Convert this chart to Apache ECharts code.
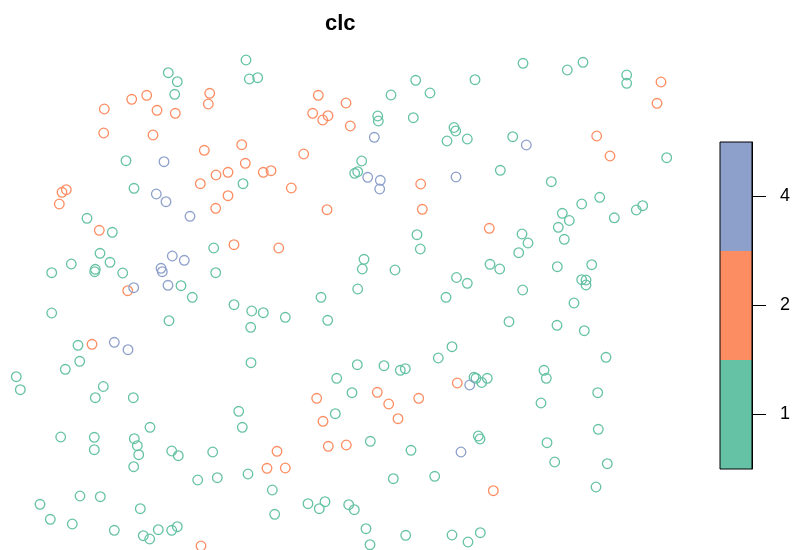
<!DOCTYPE html>
<html>
<head>
<meta charset="utf-8">
<script src="https://cdn.jsdelivr.net/npm/echarts@6/dist/echarts.min.js"></script>
<style>
  html, body { margin: 0; padding: 0; background: #fff; }
  #main { width: 795px; height: 550px; }
</style>
</head>
<body>
<div id="main"></div>
<script>
var chartDom = document.getElementById('main');
var myChart = echarts.init(chartDom, null, { renderer: 'canvas' });

// point locations (easting, northing), one list per clc class
var clc1 = [
  [168.3,72.7],[177.3,81.7],[174.7,94.3],[126,160.7],[134,188.3],[87,218.3],
  [246,60],[249.3,79],[257.7,77.7],[415.7,80.3],[430,93],[391,95],[377.7,116],[378.3,121],
  [413.3,117.7],[454,127.5],[455.7,131],[447,141],[467.3,139],[361.7,161],[357.7,171.7],
  [354.7,173.3],[243,183.7],
  [523,63.3],[567.3,70],[583,62.3],[475,79.7],[626.7,75],[626.7,83.3],[512.7,136.7],
  [500.3,170.3],[551.3,181.7],[666.7,157.7],[599.7,197.3],[581.7,204],[562.3,213.3],
  [569.3,220.5],[614.3,217.8],[642.7,205.7],[636.3,210],
  [112.3,232.3],[100,253.3],[110,262.3],[71.3,264],[51.7,272.7],[95.3,269.3],[94.7,271.7],
  [122.7,273],[213.7,248],[215.7,272.7],[181,285.7],[192.3,297.3],[51.7,313],[169,320.7],
  [78,345.3],[79.7,361.3],[65.3,369.3],[16.3,376.7],
  [417,234.7],[420.3,249],[364,259.3],[362.3,269],[395,270],[357.7,289],[321,297.3],
  [327.7,320.3],[234,304.7],[251.7,311],[263.3,312.7],[285.3,317.3],[250.7,327.3],
  [446,297.3],[456.5,277.5],[251,362.7],[336.7,378.3],[357.3,364.7],[384,365.7],
  [400.3,370.3],[405.3,368.7],[438.3,358],[452,346.7],
  [558.3,227.3],[564.3,239.3],[522,234],[528,243],[518.7,252.7],[490,264.3],[499.7,269],
  [467.3,283.3],[557.3,266.7],[591.7,264.7],[581.7,279.7],[586,280],[586,285],
  [522.7,290],[574,303],[509,321.7],[557,325.3],[584.3,330.7],[606,357.3],[544,370.3],
  [546.3,378.3],[474,377.3],[476,378.3],[487.3,378.3],[481.7,382.5],
  [597.7,392.7],[541,403],[598.3,429.3],[478.3,436],[480,439],[547,442.7],[554.7,462],
  [607.3,463.7],[596,487],[452,535],[480.3,532.7],[468,542],
  [20.3,389.7],[103.3,386.5],[95.3,397.7],[133.3,397.7],[60.7,437],[94.3,437.3],
  [94.3,449.7],[134.3,438.7],[150,427.3],[137.3,445.7],[138.7,454.7],[133.7,466.7],
  [171.7,451],[178.3,455.7],[212.7,452],[197.7,480],[217.3,477.7],[80,496],[100.3,496.7],
  [40,504.3],[50.3,519.3],[72.3,524],[140.3,508.7],[114.3,530.3],[143.3,535.7],
  [149.7,539],[158.3,529.7],[171.7,530.3],[177.3,526.7],
  [352,392.7],[238.7,411.3],[242.3,427.3],[335.3,413.7],[370.3,441.3],[411,450.3],
  [248,474],[272.3,490],[274.7,514.3],[308,503.7],[319.3,508.7],[325,501.7],[348.7,504.7],
  [354.3,509.7],[393.3,478.7],[434.7,476.3],[366,528.7],[370,544.7],[405.7,535.3]
];
var clc2 = [
  [131.7,99.3],[146.7,95.3],[104.3,109],[157,110.3],[175.3,113.3],[209.7,93.3],[208.3,104],
  [103.7,133],[153,135],[204.3,150.3],[216,175],[228,172.3],[200.3,183.7],[228,195.7],
  [215.7,208.3],[66.3,189.7],[62,192.3],[59.3,204],
  [318.3,95.3],[346,103],[312.7,113.3],[322.7,120],[328,115.7],[350.3,126],[241.7,144.7],
  [303.7,154],[245.3,163.3],[263.3,172.3],[271,170.7],[291.3,188],[327,209.7],
  [420.7,184],[422.3,209.3],
  [661,82],[657,103.3],[596.7,136],[610,156],
  [99.3,230.3],[127.7,290.7],[92,344.3],[234,244.7],[278.7,248],
  [489.3,228.3],[457.3,383],[493.3,490.7],[201,546],
  [316.7,398.3],[377.3,392.3],[388.7,404],[398,418.7],[418.7,398.3],[323,421.3],
  [277,451.3],[267,468.3],[285.3,468],[328.3,446.3],[346.3,445]
];
var clc4 = [
  [164,161.7],[156.3,194],[166,201.7],[190,216.3],
  [374.3,137.3],[367.7,177.3],[380.3,180.3],[379.7,189],[456,177],[526.3,145],
  [172.3,256],[184.3,260.3],[161,268.3],[162.3,271.7],[133.7,287.7],[168,285.3],
  [114.3,342.3],[128,349.7],
  [469.7,385],[461,452]
];

// legend classes, bottom to top
var classLabels = ['1', '2', '4'];
var classColors = ['#66C2A5', '#FC8D62', '#8DA0CB'];

function pointSeries(data, color) {
  return {
    type: 'scatter',
    xAxisIndex: 0,
    yAxisIndex: 0,
    data: data,
    symbol: 'circle',
    symbolSize: 9.6,
    silent: true,
    itemStyle: {
      color: 'rgba(0,0,0,0)',
      borderColor: color,
      borderWidth: 1.3,
      opacity: 1
    }
  };
}

var option = {
  animation: false,
  backgroundColor: '#fff',
  textStyle: { fontFamily: '"Liberation Sans", Arial, sans-serif' },
  title: {
    text: 'clc',
    left: 320,
    top: 8,
    textStyle: { fontSize: 22, fontWeight: 'bold', color: '#000',
      fontFamily: '"Liberation Sans", Arial, sans-serif' }
  },
  grid: [
    { left: 0, right: 0, top: 0, bottom: 0 },
    { left: 720, top: 142, width: 32, height: 327, show: true, z: 5,
      borderColor: '#000', borderWidth: 1, backgroundColor: 'transparent' }
  ],
  xAxis: [
    { type: 'value', gridIndex: 0, min: 0, max: 795, show: false },
    { type: 'value', gridIndex: 1, min: 0, max: 1, show: false }
  ],
  yAxis: [
    { type: 'value', gridIndex: 0, min: 0, max: 550, inverse: true, show: false },
    {
      type: 'category', gridIndex: 1, data: classLabels, position: 'right', z: 5,
      axisLine: { show: true, onZero: false, lineStyle: { color: '#000', width: 1 } },
      axisTick: { show: true, inside: false, alignWithLabel: true, length: 14,
        lineStyle: { color: '#000', width: 1 } },
      axisLabel: { inside: false, margin: 28, fontSize: 18, color: '#000',
        fontFamily: '"Liberation Sans", Arial, sans-serif' },
      splitLine: { show: false }
    }
  ],
  series: [
    pointSeries(clc1, classColors[0]),
    pointSeries(clc2, classColors[1]),
    pointSeries(clc4, classColors[2]),
    {
      type: 'bar',
      xAxisIndex: 1,
      yAxisIndex: 1,
      barWidth: '100%',
      barCategoryGap: '0%',
      silent: true,
      z: 1,
      data: classLabels.map(function (c, i) {
        return { value: 1, itemStyle: { color: classColors[i] } };
      })
    }
  ]
};

myChart.setOption(option);
window.addEventListener('resize', myChart.resize);
</script>
</body>
</html>
